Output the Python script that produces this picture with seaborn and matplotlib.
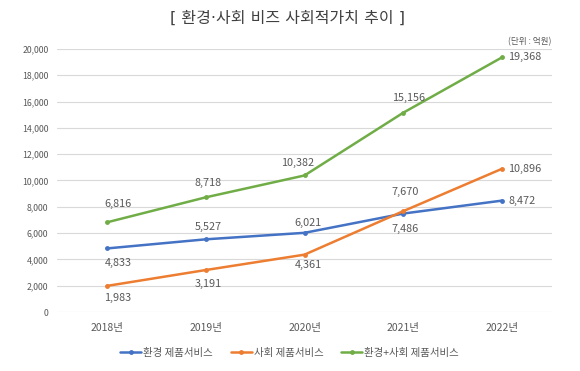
import matplotlib
matplotlib.use("Agg")
import matplotlib.pyplot as plt
import seaborn as sns
import pandas as pd

years = ["2018년", "2019년", "2020년", "2021년", "2022년"]
env = [4833, 5527, 6021, 7486, 8472]
soc = [1983, 3191, 4361, 7670, 10896]
both = [6816, 8718, 10382, 15156, 19368]
series_names = ["환경 제품서비스", "사회 제품서비스", "환경+사회 제품서비스"]
colors = ["#4472C4", "#ED7D31", "#70AD47"]
title = "[ 환경·사회 비즈 사회적가치 추이 ]"
unit = "(단위 : 억원)"

sns.set_theme(style="white")
plt.rcParams["font.family"] = ["Noto Sans CJK KR", "DejaVu Sans"]

rows = []
for name, vals in zip(series_names, [env, soc, both]):
    for i, (y, v) in enumerate(zip(years, vals)):
        rows.append({"x": i, "year": y, "value": v, "series": name})
df = pd.DataFrame(rows)

fig = plt.figure(figsize=(5.8, 3.71), dpi=100)
ax = fig.add_axes([0.099, 0.159, 0.852, 0.709])
sns.lineplot(data=df, x="x", y="value", hue="series", hue_order=series_names,
             palette=colors, marker="o", markersize=3.5, markeredgewidth=0,
             linewidth=1.8, ax=ax, legend=True)

ax.set_xlim(-0.5, 4.5)
ax.set_ylim(0, 20000)
ax.set_yticks(range(0, 20001, 2000))
ax.set_yticklabels([f"{v:,}" for v in range(0, 20001, 2000)])
ax.set_xticks(range(len(years)))
ax.set_xticklabels(years)
ax.tick_params(axis="y", labelsize=6.3, colors="#595959", length=0, pad=6.5)
ax.tick_params(axis="x", labelsize=7.5, colors="#595959", length=0, pad=8)
ax.set_xlabel("")
ax.set_ylabel("")
ax.grid(axis="y", color="#d9d9d9", linewidth=0.8)
ax.set_axisbelow(True)
for s in ax.spines.values():
    s.set_visible(False)

# label placement offsets (pixels)
offs = {
    0: [(11, -15), (3, 12), (3, 10), (2, -15), (6, 0)],
    1: [(11, -12), (3, -14), (4, -10), (2, 19), (6, 0)],
    2: [(11, 18), (2, 14), (-7, 12), (5, 15), (6, 0)],
}
for si, vals in enumerate([env, soc, both]):
    for i, v in enumerate(vals):
        dx, dy = offs[si][i]
        ha = "left" if i == len(vals) - 1 else "center"
        ax.annotate(f"{v:,}", (i, v), xytext=(dx, dy), textcoords="offset pixels",
                    ha=ha, va="center", fontsize=7.8, color="#595959")

leg = ax.legend(loc="upper center", bbox_to_anchor=(0.47, -0.10), ncol=3, frameon=False,
                fontsize=7.5, handlelength=2.0, handletextpad=0.2, columnspacing=1.7)
for t in leg.get_texts():
    t.set_color("#595959")

fig.text(0.495, 0.951, title, ha="center", va="center", fontsize=11.5, color="#404040",
         family=["DejaVu Sans", "Noto Sans CJK KR"])
fig.text(0.951, 0.889, unit, ha="right", va="center", fontsize=6.2, color="#595959")

fig.savefig("out.png", dpi=100)
